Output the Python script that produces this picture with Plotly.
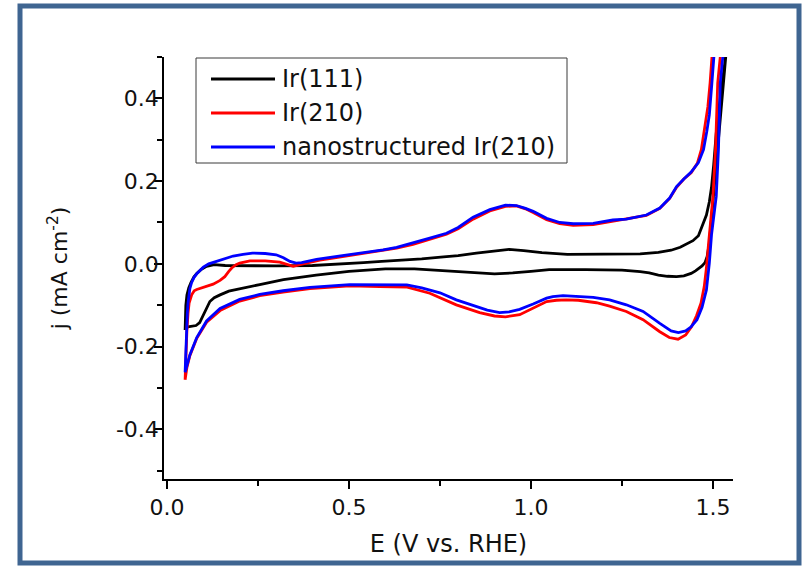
import plotly.graph_objects as go

# ---------------- data ----------------
series_names = ["Ir(111)", "Ir(210)", "nanostructured Ir(210)"]
series_colors = ["#000000", "#ff0000", "#0000ff"]

# Ir(111): anodic sweep then cathodic sweep
ir111_anodic_E = [0.050, 0.051, 0.052, 0.055, 0.060, 0.066, 0.074, 0.082, 0.095, 0.109, 0.130, 0.160,
                  0.220, 0.300, 0.400, 0.470, 0.540, 0.590, 0.650, 0.700, 0.760, 0.800, 0.850, 0.900,
                  0.940, 0.980, 1.030, 1.100, 1.200, 1.300, 1.350, 1.385, 1.410, 1.430, 1.445, 1.460,
                  1.472, 1.482, 1.490, 1.496, 1.502, 1.509, 1.517, 1.527, 1.536, 1.545]
ir111_anodic_j = [-0.160, -0.130, -0.100, -0.075, -0.058, -0.045, -0.032, -0.023, -0.013, -0.006, -0.002, -0.004,
                  -0.005, -0.005, -0.004, -0.001, 0.003, 0.006, 0.009, 0.012, 0.017, 0.020, 0.026, 0.031,
                  0.035, 0.032, 0.027, 0.023, 0.023, 0.024, 0.028, 0.033, 0.040, 0.048, 0.056, 0.068,
                  0.095, 0.118, 0.150, 0.185, 0.240, 0.316, 0.380, 0.445, 0.510, 0.600]
ir111_cathodic_E = [1.540, 1.530, 1.518, 1.508, 1.498, 1.490, 1.484, 1.478, 1.470, 1.463, 1.452, 1.440,
                    1.420, 1.400, 1.375, 1.350, 1.325, 1.300, 1.250, 1.150, 1.050, 1.000, 0.950, 0.900,
                    0.860, 0.800, 0.750, 0.680, 0.600, 0.500, 0.410, 0.320, 0.255, 0.210, 0.170, 0.146,
                    0.130, 0.118, 0.108, 0.099, 0.090, 0.080, 0.068, 0.058, 0.050]
ir111_cathodic_j = [0.550, 0.450, 0.330, 0.220, 0.120, 0.050, 0.018, 0.003, -0.005, -0.010, -0.017, -0.023,
                    -0.029, -0.031, -0.030, -0.027, -0.022, -0.019, -0.015, -0.014, -0.014, -0.018, -0.022, -0.024,
                    -0.022, -0.018, -0.015, -0.012, -0.012, -0.018, -0.027, -0.038, -0.050, -0.059, -0.066, -0.075,
                    -0.082, -0.091, -0.108, -0.127, -0.142, -0.149, -0.150, -0.152, -0.158]

# Ir(210)
ir210_anodic_E = [0.050, 0.052, 0.055, 0.058, 0.061, 0.068, 0.075, 0.082, 0.095, 0.109, 0.127, 0.146,
                  0.159, 0.170, 0.178, 0.190, 0.200, 0.228, 0.270, 0.310, 0.330, 0.347, 0.365, 0.384,
                  0.420, 0.456, 0.502, 0.548, 0.594, 0.631, 0.676, 0.722, 0.768, 0.800, 0.841, 0.887,
                  0.930, 0.960, 0.985, 1.006, 1.043, 1.079, 1.116, 1.171, 1.225, 1.262, 1.317, 1.354,
                  1.381, 1.400, 1.420, 1.440, 1.457, 1.468, 1.478, 1.486, 1.492, 1.498, 1.505]
ir210_anodic_j = [-0.280, -0.220, -0.160, -0.119, -0.095, -0.075, -0.065, -0.062, -0.058, -0.055, -0.049, -0.040,
                  -0.031, -0.018, -0.010, -0.002, 0.002, 0.007, 0.007, 0.004, -0.002, -0.006, -0.002, 0.002,
                  0.009, 0.014, 0.020, 0.026, 0.033, 0.038, 0.047, 0.059, 0.072, 0.085, 0.108, 0.128,
                  0.139, 0.140, 0.133, 0.124, 0.107, 0.097, 0.093, 0.095, 0.103, 0.107, 0.117, 0.134,
                  0.158, 0.185, 0.205, 0.220, 0.243, 0.276, 0.330, 0.380, 0.437, 0.500, 0.600]
ir210_cathodic_E = [1.512, 1.518, 1.520, 1.513, 1.507, 1.500, 1.494, 1.488, 1.482, 1.476, 1.467, 1.455,
                    1.441, 1.425, 1.404, 1.380, 1.354, 1.308, 1.262, 1.216, 1.180, 1.130, 1.097, 1.070,
                    1.043, 1.006, 0.969, 0.930, 0.900, 0.859, 0.795, 0.722, 0.660, 0.585, 0.502, 0.393,
                    0.319, 0.255, 0.200, 0.146, 0.109, 0.082, 0.063, 0.055, 0.050]
ir210_cathodic_j = [0.680, 0.600, 0.500, 0.437, 0.276, 0.163, 0.114, 0.050, -0.010, -0.055, -0.095, -0.125,
                    -0.152, -0.172, -0.182, -0.178, -0.164, -0.135, -0.115, -0.102, -0.094, -0.088, -0.087, -0.088,
                    -0.091, -0.107, -0.123, -0.128, -0.126, -0.118, -0.099, -0.071, -0.056, -0.055, -0.053, -0.060,
                    -0.068, -0.077, -0.090, -0.113, -0.141, -0.180, -0.222, -0.250, -0.280]

# nanostructured Ir(210)
nano_anodic_E = [0.050, 0.052, 0.053, 0.056, 0.058, 0.063, 0.068, 0.075, 0.082, 0.091, 0.100, 0.115,
                 0.136, 0.164, 0.182, 0.209, 0.235, 0.270, 0.300, 0.320, 0.338, 0.355, 0.370, 0.411,
                 0.460, 0.502, 0.594, 0.631, 0.676, 0.722, 0.768, 0.800, 0.841, 0.887, 0.930, 0.960,
                 0.985, 1.006, 1.043, 1.079, 1.116, 1.171, 1.225, 1.262, 1.317, 1.354, 1.381, 1.400,
                 1.420, 1.440, 1.460, 1.474, 1.483, 1.490, 1.497, 1.503, 1.510]
nano_anodic_j = [-0.262, -0.200, -0.160, -0.120, -0.095, -0.060, -0.045, -0.032, -0.024, -0.015, -0.008, 0.000,
                 0.006, 0.014, 0.019, 0.023, 0.026, 0.025, 0.022, 0.015, 0.006, 0.002, 0.003, 0.011,
                 0.017, 0.022, 0.034, 0.040, 0.050, 0.062, 0.074, 0.088, 0.113, 0.131, 0.142, 0.141,
                 0.134, 0.127, 0.110, 0.100, 0.097, 0.098, 0.106, 0.108, 0.118, 0.135, 0.159, 0.187,
                 0.205, 0.222, 0.245, 0.276, 0.320, 0.360, 0.437, 0.500, 0.600]
nano_cathodic_E = [1.518, 1.525, 1.527, 1.520, 1.515, 1.509, 1.502, 1.496, 1.490, 1.482, 1.470, 1.456,
                   1.440, 1.425, 1.405, 1.385, 1.354, 1.308, 1.262, 1.216, 1.171, 1.120, 1.088, 1.060,
                   1.043, 1.006, 0.969, 0.940, 0.914, 0.880, 0.841, 0.795, 0.750, 0.700, 0.659, 0.600,
                   0.502, 0.393, 0.319, 0.255, 0.200, 0.146, 0.109, 0.082, 0.063, 0.050]
nano_cathodic_j = [0.680, 0.600, 0.500, 0.437, 0.276, 0.163, 0.114, 0.070, 0.002, -0.063, -0.105, -0.135,
                   -0.152, -0.162, -0.166, -0.162, -0.144, -0.115, -0.099, -0.087, -0.081, -0.078, -0.077, -0.079,
                   -0.083, -0.097, -0.110, -0.116, -0.118, -0.112, -0.100, -0.087, -0.070, -0.058, -0.051, -0.050,
                   -0.050, -0.057, -0.065, -0.074, -0.086, -0.108, -0.138, -0.178, -0.220, -0.262]

x_tick_vals = [0.0, 0.5, 1.0, 1.5]
x_tick_text = ["0.0", "0.5", "1.0", "1.5"]
x_minor_vals = [0.25, 0.75, 1.25]
y_tick_vals = [-0.4, -0.2, 0.0, 0.2, 0.4]
y_tick_text = ["-0.4", "-0.2", "0.0", "0.2", "0.4"]
y_minor_vals = [-0.5, -0.3, -0.1, 0.1, 0.3, 0.5]

x_title = "E (V vs. RHE)"
y_title = "j (mA cm<sup>-2</sup>)"

# ---------------- figure ----------------
FONT = "DejaVu Sans, Verdana, sans-serif"
W, H = 810, 567
PL, PR, PT, PB = 164, 733, 57, 479  # plot-area pixel box


def px(x):
    return (x - PL) / (PR - PL)


def py(y):
    return (PB - y) / (PB - PT)


series = [
    (ir111_anodic_E + ir111_cathodic_E, ir111_anodic_j + ir111_cathodic_j),
    (ir210_anodic_E + ir210_cathodic_E, ir210_anodic_j + ir210_cathodic_j),
    (nano_anodic_E + nano_cathodic_E, nano_anodic_j + nano_cathodic_j),
]

fig = go.Figure()
for (E, j), name, color in zip(series, series_names, series_colors):
    fig.add_trace(go.Scatter(x=E, y=j, mode="lines", name=name,
                             line=dict(color=color, width=2.8),
                             showlegend=False, hoverinfo="skip"))

axis_common = dict(showline=True, linecolor="#000000", linewidth=1.5, mirror=False,
                   ticks="outside", ticklen=8, tickwidth=1.5, tickcolor="#000000",
                   showgrid=False, zeroline=False,
                   tickfont=dict(family=FONT, size=22, color="#111111"))

fig.update_layout(
    width=W, height=H,
    margin=dict(l=PL, r=W - PR, t=PT, b=H - PB),
    paper_bgcolor="white", plot_bgcolor="white",
    font=dict(family=FONT, color="#111111"),
    xaxis=dict(range=[-0.008, 1.555], tickmode="array", tickvals=x_tick_vals, ticktext=x_tick_text,
               minor=dict(tickmode="array", tickvals=x_minor_vals, ticks="outside", ticklen=5,
                          tickwidth=1.5, tickcolor="#000000"),
               title=dict(text=x_title, font=dict(family=FONT, size=24, color="#111111"), standoff=16),
               **axis_common),
    yaxis=dict(range=[-0.52, 0.5], tickmode="array", tickvals=y_tick_vals, ticktext=y_tick_text,
               minor=dict(tickmode="array", tickvals=y_minor_vals, ticks="outside", ticklen=5,
                          tickwidth=1.5, tickcolor="#000000"),
               ticklabelstandoff=-9,
               title=dict(text=y_title, font=dict(family=FONT, size=22, color="#111111"), standoff=42),
               **axis_common),
)

# custom legend box (long line samples as in the reference)
shapes = [dict(type="rect", xref="paper", yref="paper",
               x0=px(196), x1=px(567), y0=py(163), y1=py(58),
               line=dict(color="#3a3a3a", width=1), fillcolor="white", layer="above")]
annotations = []
rows = [79, 113, 147]
for name, color, ry in zip(series_names, series_colors, rows):
    shapes.append(dict(type="line", xref="paper", yref="paper",
                       x0=px(211), x1=px(275), y0=py(ry), y1=py(ry),
                       line=dict(color=color, width=2.8), layer="above"))
    annotations.append(dict(xref="paper", yref="paper", x=px(280), y=py(ry),
                            xanchor="left", yanchor="middle", showarrow=False,
                            text=name, font=dict(family=FONT, size=24, color="#111111")))

# outer steel-blue frame
shapes.append(dict(type="rect", xref="paper", yref="paper",
                   x0=px(20), x1=px(799), y0=py(563), y1=py(6),
                   line=dict(color="#3f6591", width=5), fillcolor="rgba(0,0,0,0)", layer="above"))

fig.update_layout(shapes=shapes, annotations=annotations)

fig.write_html("out.html", config={"displayModeBar": False},
               post_script="document.body.style.margin='0';")
